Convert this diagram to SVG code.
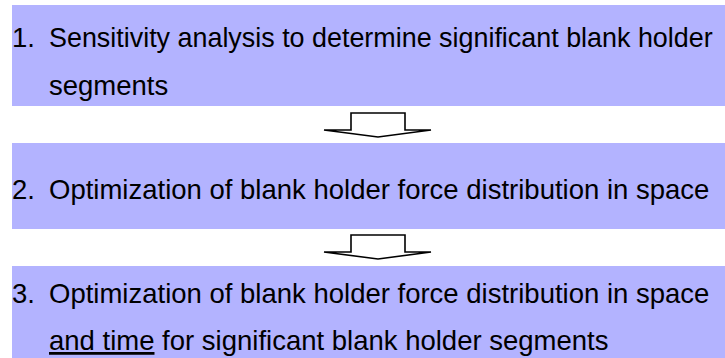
<svg xmlns="http://www.w3.org/2000/svg" width="725" height="358" viewBox="0 0 725 358">
  <style>
    .step { fill: #b3b3ff; }
    .label { font-family: "Liberation Sans", Arial, sans-serif; font-size: 27.5px; fill: #000; }
    .tight { font-size: 26.9px; }
    .flow { fill: #fff; stroke: #000; stroke-width: 1.6; stroke-linejoin: miter; }
  </style>
  <defs>
    <!-- block arrow pointing down, origin at its top-left -->
    <polygon id="downArrow" points="27,0 81,0 81,17 107,17 54,24 0,17 27,17"/>
  </defs>
  <rect width="725" height="358" fill="#fff"/>

  <g id="step1">
    <rect class="step" x="12" y="5" width="713" height="101"/>
    <text class="label" x="12" y="47">1.</text>
    <text class="label tight" x="49" y="47">Sensitivity analysis to determine significant blank holder</text>
    <text class="label" x="49" y="95">segments</text>
  </g>

  <g id="step2">
    <rect class="step" x="12" y="143" width="713" height="86"/>
    <text class="label" x="12" y="199">2.</text>
    <text class="label" x="49" y="199">Optimization of blank holder force distribution in space</text>
  </g>

  <g id="step3">
    <rect class="step" x="12" y="266" width="713" height="92"/>
    <text class="label" x="12" y="303">3.</text>
    <text class="label" x="49" y="303">Optimization of blank holder force distribution in space</text>
    <text class="label" x="49" y="350"><tspan text-decoration="underline">and time</tspan> for significant blank holder segments</text>
  </g>

  <g id="connectors">
    <use href="#downArrow" class="flow" x="324" y="113"/>
    <use href="#downArrow" class="flow" x="324" y="235"/>
  </g>
</svg>
